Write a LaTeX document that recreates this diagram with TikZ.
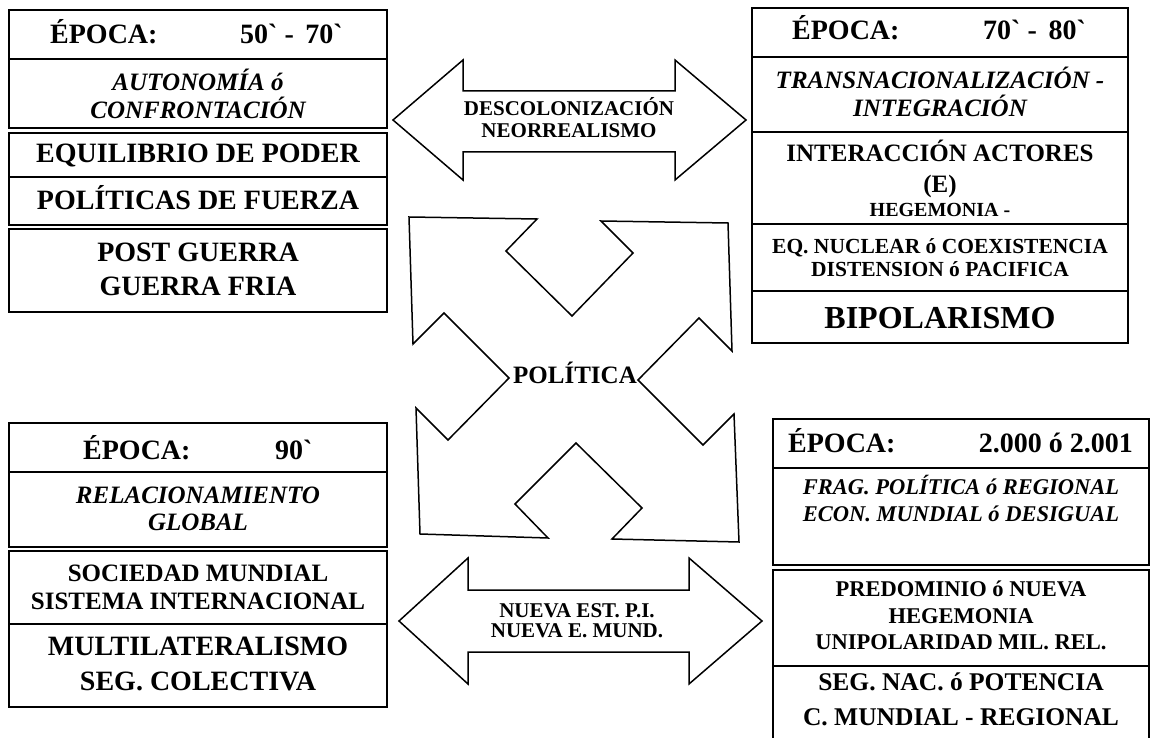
\documentclass[tikz,border=0pt]{standalone}
\usepackage{fontspec}
\setmainfont{Liberation Serif}[Ligatures=TeXOff]
\newcommand\myB[1]{\fontsize{#1}{#1}\selectfont\bfseries}
\newcommand\myBI[1]{\fontsize{#1}{#1}\selectfont\bfseries\itshape}
\begin{document}
\begin{tikzpicture}[x=1pt,y=-1pt,
  box/.style={draw, line width=1.8pt, inner sep=0pt, outer sep=0pt, anchor=north west},
  wbox/.style={box, minimum width=378pt},
  ebox/.style={box, minimum width=376pt},
  arr/.style={draw, line width=1.5pt, line join=miter},
  lbl/.style={anchor=base, inner sep=0pt},
  lblw/.style={anchor=base west, inner sep=0pt},
  lble/.style={anchor=base east, inner sep=0pt}]
\useasboundingbox (0,0) rectangle (1151,738);

% ---------- top-left group ----------
\node[wbox, minimum height=49pt] (tl1) at (9,10) {};
\node[wbox, minimum height=69pt] (tl2) at (9,59) {};
\node[wbox, minimum height=44pt] (tl3) at (9,133) {};
\node[wbox, minimum height=48pt] (tl4) at (9,177) {};
\node[wbox, minimum height=83pt] (tl5) at (9,229) {};
\node[lblw, font=\myB{28}] (tl1a) at (50,44) {ÉPOCA:};
\node[lblw, font=\myB{28}] (tl1b) at (240,44) {50` - \,70`};
\node[lbl, font=\myBI{25}] (tl2a) at (198,91) {AUTONOMÍA ó};
\node[lbl, font=\myBI{25}] (tl2b) at (198,119) {CONFRONTACIÓN};
\node[lbl, font=\myB{28}] (tl3a) at (198,163) {EQUILIBRIO DE PODER};
\node[lbl, font=\myB{28}] (tl4a) at (198,210) {POLÍTICAS DE FUERZA};
\node[lbl, font=\myB{28}] (tl5a) at (198,261) {POST GUERRA};
\node[lbl, font=\myB{28}] (tl5b) at (198,295) {GUERRA FRIA};

% ---------- top-right group ----------
\node[ebox, minimum height=49pt] (tr1) at (752,8) {};
\node[ebox, minimum height=75pt] (tr2) at (752,57) {};
\node[ebox, minimum height=92pt] (tr3) at (752,132) {};
\node[ebox, minimum height=67pt] (tr4) at (752,224) {};
\node[ebox, minimum height=52pt] (tr5) at (752,291) {};
\node[lblw, font=\myB{28}] (tr1a) at (792,40) {ÉPOCA:};
\node[lblw, font=\myB{28}] (tr1b) at (983,40) {70` - \,80`};
\node[lbl, font=\myBI{25}] (tr2a) at (940,89) {TRANSNACIONALIZACIÓN -};
\node[lbl, font=\myBI{25}] (tr2b) at (940,117) {INTEGRACIÓN};
\node[lbl, font=\myB{25}] (tr3a) at (940,162) {INTERACCIÓN ACTORES};
\node[lbl, font=\myB{25}] (tr3b) at (940,193) {(E)};
\node[lbl, font=\myB{20}] (tr3c) at (940,217) {HEGEMONIA -};
\node[lbl, font=\myB{21.5}] (tr4a) at (940,253) {EQ. NUCLEAR ó COEXISTENCIA};
\node[lbl, font=\myB{21.5}] (tr4b) at (940,276) {DISTENSION ó PACIFICA};
\node[lbl, font=\myB{32}] (tr5a) at (940,328) {BIPOLARISMO};

% ---------- bottom-left group ----------
\node[wbox, minimum height=49pt] (bl1) at (9,423) {};
\node[wbox, minimum height=75pt] (bl2) at (9,472) {};
\node[wbox, minimum height=73pt] (bl3) at (9,551) {};
\node[wbox, minimum height=83pt] (bl4) at (9,624) {};
\node[lblw, font=\myB{28}] (bl1a) at (83,459) {ÉPOCA:};
\node[lblw, font=\myB{28}] (bl1b) at (275,459) {90`};
\node[lbl, font=\myBI{25}] (bl2a) at (198,503) {RELACIONAMIENTO};
\node[lbl, font=\myBI{25}] (bl2b) at (198,530) {GLOBAL};
\node[lbl, font=\myB{25}] (bl3a) at (198,581) {SOCIEDAD MUNDIAL};
\node[lbl, font=\myB{25}] (bl3b) at (198,609) {SISTEMA INTERNACIONAL};
\node[lbl, font=\myB{28}] (bl4a) at (198,655) {MULTILATERALISMO};
\node[lbl, font=\myB{28}] (bl4b) at (198,690) {SEG. COLECTIVA};

% ---------- bottom-right group ----------
\node[ebox, minimum height=49pt] (br1) at (773,419) {};
\node[ebox, minimum height=97pt] (br2) at (773,468) {};
\node[ebox, minimum height=96pt] (br3) at (773,570) {};
\node[ebox, draw=none, minimum height=80pt] (br4) at (773,666) {};
\draw[line width=1.8pt] (br4.south west) -- (br4.north west) -- (br4.north east) -- (br4.south east);
\node[lblw, font=\myB{28}] (br1a) at (788,452) {ÉPOCA:};
\node[lble, font=\myB{28}] (br1b) at (1133,452) {2.000 ó 2.001};
\node[lbl, font=\myBI{22.5}] (br2a) at (961,494) {FRAG. POLÍTICA ó REGIONAL};
\node[lbl, font=\myBI{22.5}] (br2b) at (961,521) {ECON. MUNDIAL ó DESIGUAL};
\node[lbl, font=\myB{22.5}] (br3a) at (961,596) {PREDOMINIO ó NUEVA};
\node[lbl, font=\myB{22.5}] (br3b) at (961,623) {HEGEMONIA};
\node[lbl, font=\myB{22.5}] (br3c) at (961,649) {UNIPOLARIDAD MIL. REL.};
\node[lbl, font=\myB{25.5}] (br4a) at (961,690) {SEG. NAC. ó POTENCIA};
\node[lbl, font=\myB{25.5}] (br4b) at (961,725) {C. MUNDIAL - REGIONAL};

% ---------- top double arrow ----------
\draw[arr] (393,120) -- (463,60) -- (463,91) -- (675,91) -- (675,60) -- (746,120)
  -- (675,180) -- (675,152) -- (463,152) -- (463,180) -- cycle;
\node[lbl, font=\myB{21}] (ta1) at (569,116) {DESCOLONIZACIÓN};
\node[lbl, font=\myB{21}] (ta2) at (569,138) {NEORREALISMO};

% ---------- bottom double arrow ----------
\draw[arr] (399,621) -- (468,558) -- (468,590) -- (689,590) -- (689,558) -- (762,621)
  -- (689,684) -- (689,652) -- (468,652) -- (468,684) -- cycle;
\node[lbl, font=\myB{21}] (ba1) at (577,617) {NUEVA EST. P.I.};
\node[lbl, font=\myB{21}] (ba2) at (577,637) {NUEVA E. MUND.};

% ---------- central four-way arrow ----------
\draw[arr] (409,217) -- (537,219) -- (506,251) -- (572,316) -- (633,253) -- (601,221)
  -- (728,223) -- (732,351) -- (699,318) -- (638,380) -- (703,445) -- (734,414)
  -- (739,542) -- (612,539) -- (642,508) -- (576,443) -- (515,504) -- (548,538)
  -- (420,534) -- (416,408) -- (448,440) -- (509,378) -- (444,313) -- (413,344) -- cycle;
\node[lbl, font=\myB{25}] (pol) at (575,383) {POLÍTICA};
\end{tikzpicture}
\end{document}
